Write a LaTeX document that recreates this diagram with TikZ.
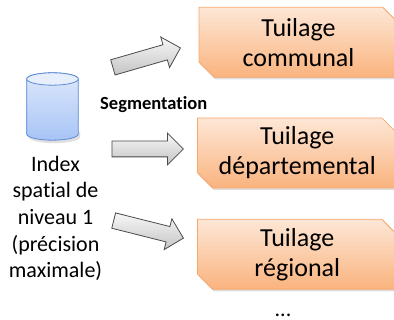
\documentclass[tikz,border=0pt]{standalone}
\usepackage{fontspec}
\setmainfont{Carlito}[Ligatures={NoCommon}]
\usetikzlibrary{shapes.misc,shapes.arrows,shadows}
\definecolor{boxtop}{HTML}{FDE7D6}
\definecolor{boxbot}{HTML}{FAB37E}
\definecolor{boxline}{HTML}{F5A86C}
\definecolor{cyltop}{HTML}{DDE8FB}
\definecolor{cylbot}{HTML}{A8C4F6}
\definecolor{cylline}{HTML}{5C8BD6}
\definecolor{arrtop}{HTML}{F7F7F7}
\definecolor{arrbot}{HTML}{C4C4C4}
\definecolor{arrline}{HTML}{4A4A4A}
\tikzset{
  tilebox/.style={shape=chamfered rectangle,
    chamfered rectangle corners={north east,south west},
    chamfered rectangle xsep=12pt, chamfered rectangle angle=45,
    minimum height=70pt, inner sep=0pt,
    draw=boxline, line width=0.8pt, top color=boxtop, bottom color=boxbot,
    drop shadow={opacity=0.25, shadow xshift=1pt, shadow yshift=-2pt},
    align=center, font=\fontsize{26}{30}\selectfont},
  blockarrow/.style={shape=single arrow, inner xsep=0pt, inner ysep=7.5pt,
    single arrow head extend=8pt, minimum width=0pt,
    draw=arrline, line width=0.8pt, top color=arrtop, bottom color=arrbot,
    anchor=tail},
  bodytext/.style={align=center, font=\fontsize{22}{26.7}\selectfont}
}
\begin{document}
\begin{tikzpicture}[x=1pt,y=1pt]
\useasboundingbox (0,0) rectangle (394,320);
% database cylinder
\fill[black, opacity=0.12] (28.5,183) arc (180:360:25.8 and 6.2) -- (80.3,188) -- (28.5,188) -- cycle;
\path[draw=cylline, line width=0.8pt, top color=cyltop, bottom color=cylbot]
  (26.7,241) -- (26.7,186) arc (180:360:25.8 and 6.2) -- (78.3,241)
  arc (0:180:25.8 and 6.2) -- cycle;
\path[draw=cylline, line width=0.8pt, fill=cyltop!70!white] (52.5,241) ellipse (25.8 and 6.2);
\node[bodytext, anchor=base] (idx) at (55.5,42)
  {Index\\spatial de\\niveau 1\\(précision\\maximale)};
% boxes
\node[tilebox, minimum width=199pt] (b1) at (298.5,277.7) {Tuilage\\communal};
\node[tilebox, minimum width=199.5pt] (b2) at (297.25,167) {Tuilage\\départemental};
\node[tilebox, minimum width=199.5pt] (b3) at (297.25,65.7) {Tuilage\\régional};
% arrows
\node[blockarrow, minimum height=70.3pt, rotate=16.1] (a1) at (112.5,252.5) {};
\node[blockarrow, minimum height=71.5pt] (a2) at (111.5,171) {};
\node[blockarrow, minimum height=71.9pt, rotate=-14.1] (a3) at (113.3,99.5) {};
\node[anchor=base west, inner sep=0pt, font=\fontsize{18.5}{22}\selectfont\bfseries] (seg) at (100,210) {Segmentation};
\node[anchor=base, inner sep=0pt, font=\fontsize{22}{26}\selectfont] (dots) at (283,3) {...};
\end{tikzpicture}
\end{document}
